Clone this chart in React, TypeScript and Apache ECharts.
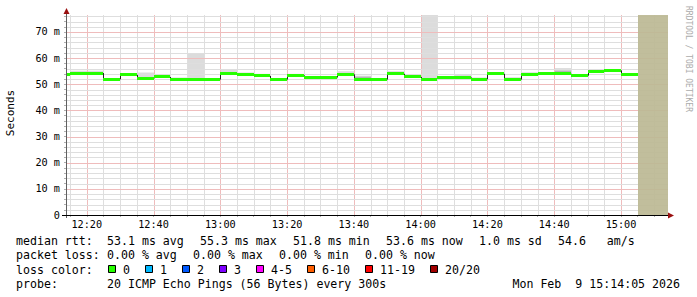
import React, { useEffect, useRef } from 'react';
import * as echarts from 'echarts';

// ---- data ----
const intervalStarts = [
  '12:10', '12:15', '12:20', '12:25', '12:30', '12:35', '12:40', '12:45', '12:50', '12:55',
  '13:00', '13:05', '13:10', '13:15', '13:20', '13:25', '13:30', '13:35', '13:40', '13:45', '13:50', '13:55',
  '14:00', '14:05', '14:10', '14:15', '14:20', '14:25', '14:30', '14:35', '14:40', '14:45', '14:50', '14:55',
  '15:00',
];
const medianRtt = [
  53.6, 54.3, 54.3, 51.9, 53.6, 52.3, 52.8, 51.8, 52.0, 51.8,
  54.2, 53.6, 53.2, 51.8, 53.4, 52.6, 52.6, 53.8, 51.9, 51.8, 54.0, 52.8,
  52.0, 52.6, 52.6, 51.9, 54.0, 51.8, 53.8, 54.1, 54.0, 53.3, 54.7, 55.3,
  53.6,
];
const smokeMax = [
  54.0, 55.2, 55.2, 52.3, 54.0, 54.5, 53.2, 52.6, 61.9, 52.1,
  55.5, 54.5, 54.0, 52.1, 54.0, 53.0, 52.9, 55.0, 53.3, 52.1, 55.0, 53.8,
  76.5, 52.9, 53.7, 52.6, 54.3, 52.7, 54.6, 54.4, 56.2, 53.9, 55.3, 55.6,
  54.3,
];
const smokeDark: (number | null)[] = [
  null, null, null, null, null, null, null, null, null, null,
  null, null, null, null, null, null, null, null, 52.9, null, null, null,
  null, null, null, null, null, null, null, null, 55.2, null, null, null,
  null,
];
const stepMinutes = 5;
const unknownFrom = '15:05';
const viewStart = '12:14:05';
const viewEnd = '15:14:05';
const xTickLabels = ['12:20', '12:40', '13:00', '13:20', '13:40', '14:00', '14:20', '14:40', '15:00'];
const yTickValues = [0, 10, 20, 30, 40, 50, 60, 70];
const yTickLabels = ['0', '10 m', '20 m', '30 m', '40 m', '50 m', '60 m', '70 m'];
const yMax = 76.5;

const rttLabel = 'median rtt:';
const rttStats = ['53.1 ms avg', '55.3 ms max', '51.8 ms min', '53.6 ms now', '1.0 ms sd', '54.6   am/s'];
const lossLabel = 'packet loss:';
const lossStats = ['0.00 % avg', '0.00 % max', '0.00 % min', '0.00 % now'];
const lossColorLabel = 'loss color:';
const lossLabels = ['0', '1', '2', '3', '4-5', '6-10', '11-19', '20/20'];
const lossColors = ['#26ff00', '#00b8ff', '#0059ff', '#7e00ff', '#ff00ff', '#ff5e00', '#ff0000', '#a10000'];
const probeLabel = 'probe:';
const probeText = '20 ICMP Echo Pings (56 Bytes) every 300s';
const dateText = 'Mon Feb  9 15:14:05 2026';
const yAxisName = 'Seconds';
const watermark = 'RRDTOOL / TOBI OETIKER';

// ---- helpers ----
const toMin = (s: string) => {
  const p = s.split(':').map(Number);
  return (p[0] - 12) * 60 + p[1] + (p[2] || 0) / 60;
};
const fmtMin = (v: number) => {
  const t = Math.round(v);
  const h = 12 + Math.floor(t / 60);
  const m = t % 60;
  return `${h}:${m < 10 ? '0' : ''}${m}`;
};

const MONO = '"DejaVu Sans Mono", "Liberation Mono", monospace';
const MAJOR = '#efbcbc';
const MINOR = '#dedede';

export default function App() {
  const ref = useRef<HTMLDivElement>(null);

  useEffect(() => {
    if (!ref.current) return;
    const chart = echarts.init(ref.current, undefined, { renderer: 'svg' });

    const xMin = toMin(viewStart);
    const xMax = toMin(viewEnd);
    const starts = intervalStarts.map(toMin);

    const xGrid: number[] = [];
    for (let m = Math.ceil(xMin / 5) * 5; m <= xMax; m += 5) xGrid.push(m);
    const yGrid: number[] = [];
    for (let v = 2; v <= yMax; v += 2) yGrid.push(v);
    // [orientation (0 vertical, 1 horizontal), position, major]
    const gridLines: number[][] = [
      ...xGrid.map((m) => [0, m, m % 20 === 0 ? 1 : 0]),
      ...yGrid.map((v) => [1, v, v % 10 === 0 ? 1 : 0]),
    ];

    const clip = (shape: any, cs: any) => echarts.graphic.clipRectByRect(shape, {
      x: cs.x, y: cs.y, width: cs.width, height: cs.height,
    });

    const gridRender = (params: any, api: any) => {
      const g = gridLines[params.dataIndex];
      const cs = params.coordSys;
      const color = g[2] ? MAJOR : MINOR;
      if (g[0] === 0) {
        const x = Math.round(api.coord([g[1], 0])[0]) + 0.5;
        return {
          type: 'line',
          shape: { x1: x, y1: cs.y, x2: x, y2: cs.y + cs.height },
          style: { stroke: color, lineWidth: 1 },
        };
      }
      const y = Math.round(api.coord([xMin, g[1]])[1]) + 0.5;
      return {
        type: 'line',
        shape: { x1: cs.x, y1: y, x2: cs.x + cs.width, y2: y },
        style: { stroke: color, lineWidth: 1 },
      };
    };

    const smokeRender = (params: any, api: any) => {
      const i = params.dataIndex;
      const cs = params.coordSys;
      const x0 = Math.round(api.coord([starts[i], 0])[0]);
      const x1 = Math.round(api.coord([starts[i] + stepMinutes, 0])[0]);
      const yMed = api.coord([0, medianRtt[i]])[1];
      const children: any[] = [];
      const yTop = api.coord([0, smokeMax[i]])[1];
      const r1 = clip({ x: x0, y: yTop, width: x1 - x0, height: yMed - yTop }, cs);
      if (r1) children.push({ type: 'rect', shape: r1, style: { fill: '#dcdcdc' } });
      const d = smokeDark[i];
      if (d != null) {
        const yD = api.coord([0, d])[1];
        const r2 = clip({ x: x0, y: yD, width: x1 - x0, height: yMed - yD }, cs);
        if (r2) children.push({ type: 'rect', shape: r2, style: { fill: '#b4b4b4' } });
      }
      return { type: 'group', children };
    };

    const medianRender = (params: any, api: any) => {
      const i = params.dataIndex;
      const cs = params.coordSys;
      const x0 = Math.round(api.coord([starts[i], 0])[0]);
      const x1 = Math.round(api.coord([starts[i] + stepMinutes, 0])[0]);
      const yc = api.coord([0, medianRtt[i]])[1];
      const y0 = Math.round(yc - 1.5);
      const r = clip({ x: x0, y: y0, width: x1 - x0, height: 3 }, cs);
      if (!r) return null;
      return { type: 'rect', shape: r, style: { fill: lossColors[0] } };
    };

    const stepRender = (params: any, api: any) => {
      const i = params.dataIndex;
      if (i === 0) return null;
      const cs = params.coordSys;
      const x = Math.round(api.coord([starts[i], 0])[0]) + 0.5;
      if (x < cs.x) return null;
      const ya = api.coord([0, medianRtt[i - 1]])[1];
      const yb = api.coord([0, medianRtt[i]])[1];
      return {
        type: 'line',
        shape: { x1: x, y1: ya, x2: x, y2: yb },
        style: { stroke: '#222', lineWidth: 1 },
      };
    };

    const unknownRender = (params: any, api: any) => {
      const cs = params.coordSys;
      const x0 = Math.round(api.coord([toMin(unknownFrom), 0])[0]);
      const x1 = api.coord([xMax, 0])[0];
      const r = clip({ x: x0, y: cs.y, width: x1 - x0, height: cs.height }, cs);
      return r ? { type: 'rect', shape: r, style: { fill: '#bcb994', opacity: 0.93 } } : null;
    };

    // legend layout
    const CW = 7;
    const textEl = (text: string, x: number, y: number, extra: any = {}) => ({
      type: 'text', x, y, z: 100,
      style: { text, fill: '#000', fontFamily: MONO, fontSize: 11.6, verticalAlign: 'middle', align: 'left', ...extra },
    });
    const graphics: any[] = [];
    const rowY = [241, 255, 269.5, 284];
    graphics.push(textEl(rttLabel, 16, rowY[0]));
    let px = 107;
    rttStats.forEach((s) => { graphics.push(textEl(s, px, rowY[0])); px += s.length * CW + 16; });
    graphics.push(textEl(lossLabel, 16, rowY[1]));
    px = 107;
    lossStats.forEach((s) => { graphics.push(textEl(s, px, rowY[1])); px += s.length * CW + 16; });
    graphics.push(textEl(lossColorLabel, 16, rowY[2]));
    let bx = 108;
    lossLabels.forEach((l, i) => {
      graphics.push({
        type: 'rect', z: 100,
        shape: { x: bx + 0.5, y: 265.5, width: 7, height: 7 },
        style: { fill: lossColors[i], stroke: '#000', lineWidth: 1 },
      });
      graphics.push(textEl(l, bx + 15, rowY[2]));
      bx += 30 + l.length * CW;
    });
    graphics.push(textEl(probeLabel, 16, rowY[3]));
    graphics.push(textEl(probeText, 107, rowY[3]));
    graphics.push(textEl(dateText, 680, rowY[3], { align: 'right' }));

    // axis name + watermark
    graphics.push({
      type: 'text', x: 10, y: 113, rotation: Math.PI / 2, z: 100,
      style: { text: yAxisName, fill: '#000', fontFamily: MONO, fontSize: 11, align: 'center', verticalAlign: 'middle' },
    });
    graphics.push({
      type: 'text', x: 688, y: 59, rotation: -Math.PI / 2, z: 100,
      style: { text: watermark, fill: '#ababab', fontFamily: MONO, fontSize: 8, align: 'center', verticalAlign: 'middle' },
    });
    // axis lines and arrows
    graphics.push({ type: 'line', z: 90, shape: { x1: 66.5, y1: 13, x2: 66.5, y2: 218 }, style: { stroke: '#606060', lineWidth: 1 } });
    graphics.push({ type: 'line', z: 90, shape: { x1: 62, y1: 215.5, x2: 669, y2: 215.5 }, style: { stroke: '#000', lineWidth: 1 } });
    graphics.push({ type: 'polygon', z: 95, shape: { points: [[66.5, 8], [63.5, 14], [69.5, 14]] }, style: { fill: '#9a1010' } });
    graphics.push({ type: 'polygon', z: 95, shape: { points: [[674, 215.5], [668, 212.5], [668, 218.5]] }, style: { fill: '#9a1010' } });

    chart.setOption({
      animation: false,
      backgroundColor: '#ffffff',
      grid: { left: 67, right: 29, top: 15, bottom: 82 },
      xAxis: {
        type: 'value', min: xMin, max: xMax, z: 6,
        axisLine: { show: false }, splitLine: { show: false },
        axisTick: { show: true, customValues: xGrid, length: 2, lineStyle: { color: '#b0b0b0' } },
        axisLabel: {
          customValues: xTickLabels.map(toMin),
          formatter: (v: number) => fmtMin(v),
          fontFamily: MONO, fontSize: 10.2, color: '#000', margin: 4,
        },
      },
      yAxis: {
        type: 'value', min: 0, max: yMax, z: 6,
        axisLine: { show: false }, splitLine: { show: false },
        axisTick: { show: true, customValues: yGrid, length: 3, lineStyle: { color: '#b0b0b0' } },
        axisLabel: {
          customValues: yTickValues,
          formatter: (v: number) => {
            const k = yTickValues.indexOf(v);
            return k >= 0 ? yTickLabels[k] : '';
          },
          fontFamily: MONO, fontSize: 10.2, color: '#000', margin: 7,
        },
      },
      graphic: graphics,
      series: [
        { type: 'custom', z: 1, silent: true, renderItem: smokeRender, data: starts.map((s, i) => [s, medianRtt[i]]) },
        { type: 'custom', z: 2, silent: true, renderItem: gridRender, data: gridLines.map((g) => [g[0] === 0 ? g[1] : xMin, g[0] === 1 ? g[1] : 0]) },
        { type: 'custom', z: 3, silent: true, renderItem: unknownRender, data: [[toMin(unknownFrom), 0]] },
        { type: 'custom', z: 3, silent: true, renderItem: stepRender, data: starts.map((s, i) => [s, medianRtt[i]]) },
        { type: 'custom', z: 4, silent: true, renderItem: medianRender, data: starts.map((s, i) => [s, medianRtt[i]]) },
      ],
    });

    return () => chart.dispose();
  }, []);

  return (
    <div
      ref={ref}
      style={{ position: 'fixed', left: 0, top: 0, width: 697, height: 297, background: '#fff' }}
    />
  );
}
